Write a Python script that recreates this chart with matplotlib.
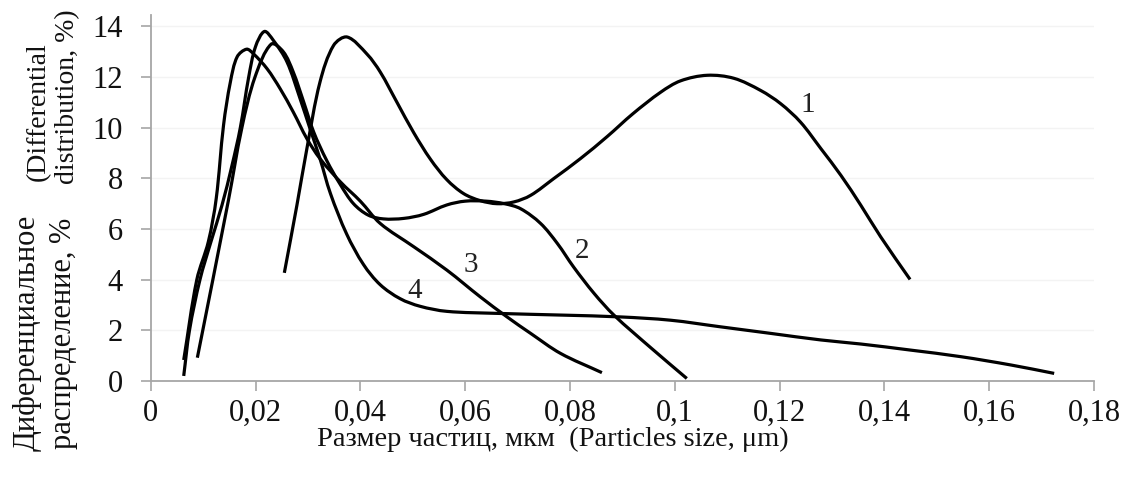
import numpy as np
import matplotlib
matplotlib.use("agg")
import matplotlib.pyplot as plt
from matplotlib.path import Path
from matplotlib.patches import PathPatch

plt.rcParams["font.family"] = ["Liberation Serif", "DejaVu Serif"]

# curve 1
c1_x = [0.0255, 0.0279, 0.0298, 0.0323, 0.0349, 0.0375, 0.0413, 0.0438, 0.0470, 0.0502,
        0.0534, 0.0565, 0.0597, 0.0629, 0.0661, 0.0693, 0.0725, 0.0769, 0.0820, 0.0871,
        0.0920, 0.0973, 0.1011, 0.1062, 0.1113, 0.1164, 0.1202, 0.1240, 0.1279, 0.1317,
        0.1355, 0.1393, 0.1449]
c1_y = [4.27, 6.94, 9.17, 11.8, 13.25, 13.58, 12.9, 12.2, 11.0, 9.8,
        8.75, 7.95, 7.4, 7.12, 7.0, 7.07, 7.33, 7.99, 8.78, 9.65,
        10.55, 11.4, 11.85, 12.07, 11.95, 11.47, 10.95, 10.22, 9.17, 8.12,
        6.94, 5.69, 4.01]

# curve 2
c2_x = [0.0089, 0.0148, 0.0174, 0.0199, 0.0230, 0.0253, 0.0272, 0.0292, 0.0311,
        0.0336, 0.0362, 0.0387, 0.0415, 0.0444, 0.0483, 0.0521, 0.0565, 0.0600, 0.0640,
        0.0675, 0.0706, 0.0744, 0.0776, 0.0807, 0.0846, 0.0884, 0.0955, 0.1023]
c2_y = [0.92, 7.1, 10.0, 12.0, 13.3, 13.0, 12.2, 11.01, 9.83,
        8.7, 7.75, 7.0, 6.55, 6.4, 6.42, 6.58, 6.95, 7.1, 7.1,
        7.0, 6.8, 6.22, 5.43, 4.5, 3.46, 2.6, 1.3, 0.1]

# curve 3
c3_x = [0.0063, 0.0088, 0.0110, 0.0125, 0.0139, 0.0152, 0.0165, 0.0183, 0.0196, 0.0222,
        0.0247, 0.0272, 0.0298, 0.0323, 0.0362, 0.0400, 0.0438, 0.0502, 0.0565, 0.0629,
        0.0680, 0.0725, 0.0782, 0.0861]
c3_y = [0.83, 4.0, 5.5, 7.2, 10.1, 11.8, 12.8, 13.1, 12.92, 12.33,
        11.54, 10.62, 9.57, 8.78, 7.86, 7.1, 6.22, 5.3, 4.38, 3.32,
        2.53, 1.88, 1.09, 0.33]

# curve 4
c4_x = [0.0063, 0.0074, 0.0094, 0.0115, 0.0136, 0.0155, 0.0171, 0.0187, 0.0200, 0.0217,
        0.0234, 0.0260, 0.0285, 0.0304, 0.0323, 0.0343, 0.0374, 0.0406, 0.0438, 0.0476,
        0.0514, 0.0565, 0.0661, 0.0788, 0.0896, 0.0992, 0.1087, 0.1183, 0.1279, 0.1355,
        0.1450, 0.1546, 0.1642, 0.1724]
c4_y = [0.2, 2.0, 4.0, 5.5, 6.94, 8.5, 10.0, 12.0, 13.2, 13.8,
        13.45, 12.6, 11.15, 9.96, 8.78, 7.4, 5.8, 4.6, 3.8, 3.25,
        2.95, 2.75, 2.67, 2.6, 2.53, 2.4, 2.14, 1.88, 1.62, 1.46,
        1.22, 0.96, 0.63, 0.3]

curve_labels = ["1", "2", "3", "4"]
label_x = [0.1253, 0.0823, 0.0611, 0.0504]
label_y = [10.9, 5.14, 4.57, 3.56]

x_ticks = [0, 0.02, 0.04, 0.06, 0.08, 0.1, 0.12, 0.14, 0.16, 0.18]
x_ticklabels = ["0", "0,02", "0,04", "0,06", "0,08", "0,1", "0,12", "0,14", "0,16", "0,18"]
y_ticks = [0, 2, 4, 6, 8, 10, 12, 14]

XMAX, YMAX = 0.18, 14.45


def smooth_path(xs, ys):
    # smoothed line like a spreadsheet chart: cubic Bezier through the points,
    # tangents from neighbours weighted by chord length (in screen-like units)
    pts = np.column_stack([xs, ys])
    scale = np.array([943 / XMAX, 366 / YMAX])
    q = pts * scale
    n = len(pts)
    d = np.hypot(*np.diff(q, axis=0).T)
    tang = np.zeros_like(pts)
    tang[0] = (pts[1] - pts[0]) / d[0]
    tang[-1] = (pts[-1] - pts[-2]) / d[-1]
    for i in range(1, n - 1):
        tang[i] = (pts[i + 1] - pts[i - 1]) / (d[i - 1] + d[i])
    verts = [pts[0]]
    codes = [Path.MOVETO]
    for i in range(n - 1):
        verts += [pts[i] + tang[i] * d[i] / 3, pts[i + 1] - tang[i + 1] * d[i] / 3, pts[i + 1]]
        codes += [Path.CURVE4] * 3
    return Path(verts, codes)


W, H = 1126, 478
fig = plt.figure(figsize=(W / 100, H / 100), dpi=100)
ax = fig.add_axes([150.7 / W, (H - 381) / H, (1094 - 150.7) / W, (381 - 15) / H])

for xs, ys in [(c1_x, c1_y), (c2_x, c2_y), (c3_x, c3_y), (c4_x, c4_y)]:
    ax.add_patch(PathPatch(smooth_path(xs, ys), fill=False, ec="black", lw=2.3,
                           joinstyle="round", capstyle="butt", zorder=3))

for t, lx, ly in zip(curve_labels, label_x, label_y):
    ax.text(lx, ly, t, fontsize=21, color="#222222", ha="center", va="center", zorder=4)

ax.set_xlim(0, XMAX)
ax.set_ylim(0, YMAX)
ax.set_xticks(x_ticks)
ax.set_xticklabels(x_ticklabels)
ax.set_yticks(y_ticks)
ax.tick_params(axis="both", direction="out", length=7, width=1.2, color="#a6a6a6",
               labelsize=22, labelcolor="#111111")
ax.tick_params(axis="y", pad=13)
ax.tick_params(axis="x", pad=6)
for s in ["top", "right"]:
    ax.spines[s].set_visible(False)
for s in ["left", "bottom"]:
    ax.spines[s].set_color("#a6a6a6")
    ax.spines[s].set_linewidth(1.3)
ax.yaxis.grid(True, color="#f3f3f3", lw=1)
ax.set_axisbelow(True)

fig.text(553 / W, 1 - 439 / H, "Размер частиц, мкм  (Particles size, μm)",
         fontsize=20.5, ha="center", va="center", color="#111111")
fig.text(27 / W, 1 - 333 / H, "Диференциальное", fontsize=22, rotation=90,
         ha="center", va="center", color="#111111")
fig.text(64 / W, 1 - 333 / H, "распределение, %", fontsize=22, rotation=90,
         ha="center", va="center", color="#111111")
fig.text(38 / W, 1 - 112 / H, "(Differential", fontsize=20, rotation=90,
         ha="center", va="center", color="#111111")
fig.text(68 / W, 1 - 97 / H, "distribution, %)", fontsize=20, rotation=90,
         ha="center", va="center", color="#111111")

fig.savefig("out.png", dpi=100)
